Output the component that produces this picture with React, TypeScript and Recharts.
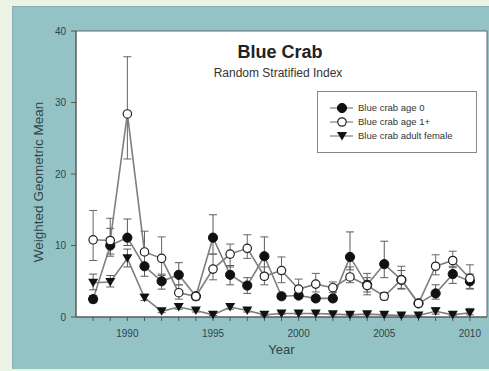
import React from 'react';
import { ComposedChart, Line, ErrorBar, XAxis, YAxis, CartesianGrid, ReferenceArea, Legend } from 'recharts';

// survey years
const years = [1988, 1989, 1990, 1991, 1992, 1993, 1994, 1995, 1996, 1997, 1998, 1999, 2000, 2001, 2002, 2003, 2004, 2005, 2006, 2007, 2008, 2009, 2010];

// age 0 index with lower / upper bounds
const age0 = [2.5, 10.0, 11.1, 7.1, 5.0, 5.9, 2.9, 11.1, 5.9, 4.4, 8.5, 2.9, 3.0, 2.6, 2.6, 8.4, 4.5, 7.4, 5.2, 1.9, 3.3, 6.0, 5.0];
const age0Lo = [2.0, 8.8, 10.0, 5.7, 3.9, 4.5, 2.5, 8.8, 4.5, 3.3, 6.0, 2.5, 2.6, 2.2, 2.2, 6.6, 3.5, 5.5, 4.0, 1.6, 2.5, 4.7, 4.0];
const age0Hi = [3.0, 12.4, 13.7, 8.8, 6.0, 7.6, 3.3, 14.3, 7.2, 5.5, 11.2, 3.3, 3.4, 3.0, 3.0, 11.9, 5.5, 10.6, 6.5, 2.2, 4.5, 7.1, 6.0];

// age 1+ index
const age1 = [10.8, 10.7, 28.4, 9.1, 8.2, 3.4, 2.9, 6.7, 8.8, 9.6, 5.7, 6.5, 3.9, 4.6, 4.1, 5.6, 4.4, 2.9, 5.2, 1.9, 7.1, 7.9, 5.4];
const age1Lo = [7.9, 8.5, 22.1, 7.0, 5.8, 2.5, 2.4, 5.2, 7.0, 8.2, 4.5, 4.8, 3.0, 3.5, 3.4, 4.8, 3.1, 2.4, 3.9, 1.6, 5.9, 6.9, 3.9];
const age1Hi = [14.9, 13.8, 36.4, 12.0, 11.2, 4.5, 3.3, 8.8, 10.2, 11.5, 7.0, 8.4, 5.3, 6.1, 4.9, 7.0, 6.1, 3.4, 7.1, 2.2, 8.7, 9.2, 7.3];

// adult female index
const adult = [4.8, 4.9, 8.2, 2.7, 0.8, 1.4, 0.9, 0.3, 1.4, 0.9, 0.3, 0.5, 0.5, 0.5, 0.4, 0.3, 0.4, 0.3, 0.2, 0.2, 0.8, 0.3, 0.6];
const adultLo = [3.8, 4.2, 7.0, 2.3, 0.6, 1.1, 0.7, 0.2, 1.1, 0.7, 0.2, 0.4, 0.4, 0.4, 0.3, 0.2, 0.3, 0.2, 0.1, 0.1, 0.4, 0.2, 0.3];
const adultHi = [6.0, 5.8, 9.5, 3.2, 1.0, 1.8, 1.1, 0.5, 1.8, 1.1, 0.4, 0.7, 0.7, 0.7, 0.6, 0.5, 0.6, 0.5, 0.3, 0.3, 1.3, 0.5, 1.2];

const yTicks = [0, 10, 20, 30, 40];
const seriesOrder = ['age0', 'age1', 'adult'];

const rows = years.map((year, i) => ({
  year,
  age0: age0[i],
  age0Err: [age0[i] - age0Lo[i], age0Hi[i] - age0[i]],
  age1: age1[i],
  age1Err: [age1[i] - age1Lo[i], age1Hi[i] - age1[i]],
  adult: adult[i],
  adultErr: [adult[i] - adultLo[i], adultHi[i] - adult[i]],
}));

const LINE = '#7f7f7f';
const AXIS = '#555';
const LABEL = '#2f4447';

type Kind = 'filled' | 'open' | 'tri';

const Marker = ({ kind, cx, cy }: { kind: Kind; cx: number; cy: number }) => {
  if (kind === 'filled') return <circle cx={cx} cy={cy} r={4.6} fill="#111" stroke="#111" />;
  if (kind === 'open') return <circle cx={cx} cy={cy} r={4.2} fill="#fff" stroke="#222" strokeWidth={1.2} />;
  return <path d={`M${cx - 5},${cy - 4} L${cx + 5},${cy - 4} L${cx},${cy + 4.5} Z`} fill="#111" />;
};

const dotFor = (kind: Kind) => (p: any) => <Marker key={`${kind}-${p.index}`} kind={kind} cx={p.cx} cy={p.cy} />;

const kinds: Record<string, Kind> = { age0: 'filled', age1: 'open', adult: 'tri' };

const LegendBox = ({ payload }: any) => {
  const items = [...(payload || [])].sort(
    (a: any, b: any) => seriesOrder.indexOf(a.dataKey) - seriesOrder.indexOf(b.dataKey)
  );
  return (
    <svg width={160} height={62}>
      <rect x={0.5} y={0.5} width={159} height={61} fill="#fff" stroke="#888" />
      {items.map((entry: any, i: number) => {
        const y = 17 + i * 14;
        return (
          <g key={entry.dataKey}>
            <line x1={13} x2={36} y1={y} y2={y} stroke="#666" strokeWidth={1} />
            <Marker kind={kinds[entry.dataKey]} cx={25} cy={y} />
            <text x={41} y={y + 3.3} fontSize={9.5} fill="#333" fontFamily="Liberation Sans, Arial, sans-serif">
              {entry.value}
            </text>
          </g>
        );
      })}
    </svg>
  );
};

const YearTick = ({ x, y, payload }: any) =>
  payload.value % 5 === 0 ? (
    <text x={x} y={y} dy={12} textAnchor="middle" fontSize={10} fill={LABEL}>
      {payload.value}
    </text>
  ) : null;

const App = () => (
  <div style={{ position: 'absolute', left: 0, top: 0, width: 489, height: 371, background: '#eef4e5', overflow: 'hidden', fontFamily: 'Liberation Sans, Arial, sans-serif' }}>
    <div style={{ position: 'absolute', left: 12, top: 6, width: 480, height: 362, background: '#94c3c5', borderLeft: '1px solid #84afb1', borderTop: '1px solid #84afb1' }} />
    <div style={{ position: 'absolute', left: 0, top: 0 }}>
      <ComposedChart width={489} height={371} data={rows} margin={{ top: 31, right: 2, bottom: 24, left: 36 }}>
        <CartesianGrid horizontal={false} vertical={false} fill="#fff" />
        <XAxis
          dataKey="year"
          type="number"
          domain={[1987, 2011]}
          ticks={years}
          interval={0}
          height={30}
          tickSize={4}
          tickMargin={4}
          stroke={AXIS}
          tick={<YearTick />}
          label={(props: any) => {
            const vb = props.viewBox;
            return (
              <text x={vb.x + vb.width / 2} y={vb.y + 37} textAnchor="middle" fontSize={13} fill={LABEL}>
                Year
              </text>
            );
          }}
        />
        <YAxis
          type="number"
          domain={[0, 40]}
          ticks={yTicks}
          width={40}
          tickSize={5}
          tickMargin={5}
          stroke={AXIS}
          tick={{ fontSize: 10, fill: LABEL }}
          label={(props: any) => {
            const vb = props.viewBox;
            const cx = vb.x + 7;
            const cy = vb.y + vb.height / 2 + 8;
            return (
              <text x={cx} y={cy} transform={`rotate(-90 ${cx} ${cy})`} textAnchor="middle" fontSize={13.5} fill={LABEL}>
                Weighted Geometric Mean
              </text>
            );
          }}
        />
        <ReferenceArea x1={1987} x2={2011} y1={0} y2={40} fill="none" stroke="#666" />
        <Legend
          layout="vertical"
          align="center"
          verticalAlign="middle"
          content={<LegendBox />}
          wrapperStyle={{ position: 'absolute', left: 317, top: 91, width: 160, height: 62 }}
        />
        <Line name="Blue crab age 0" dataKey="age0" stroke={LINE} strokeWidth={1.6} dot={dotFor('filled')} activeDot={false} isAnimationActive={false}>
          <ErrorBar dataKey="age0Err" direction="y" width={4} stroke="#5a5a5a" strokeWidth={1} />
        </Line>
        <Line name="Blue crab age 1+" dataKey="age1" stroke={LINE} strokeWidth={1.6} dot={dotFor('open')} activeDot={false} isAnimationActive={false}>
          <ErrorBar dataKey="age1Err" direction="y" width={4} stroke="#666" strokeWidth={1} />
        </Line>
        <Line name="Blue crab adult female" dataKey="adult" stroke={LINE} strokeWidth={1.6} dot={dotFor('tri')} activeDot={false} isAnimationActive={false}>
          <ErrorBar dataKey="adultErr" direction="y" width={4} stroke="#5a5a5a" strokeWidth={1} />
        </Line>
      </ComposedChart>
    </div>
    <div style={{ position: 'absolute', left: 130, top: 42, width: 300, textAlign: 'center', fontSize: 18, fontWeight: 'bold', color: '#222', lineHeight: '21px' }}>
      Blue Crab
    </div>
    <div style={{ position: 'absolute', left: 128, top: 65, width: 300, textAlign: 'center', fontSize: 12, color: '#333', lineHeight: '16px' }}>
      Random Stratified Index
    </div>
  </div>
);

export default App;
